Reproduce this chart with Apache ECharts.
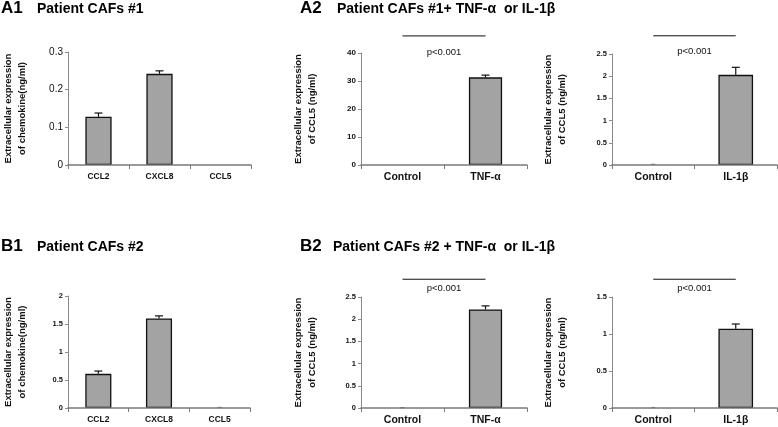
<!DOCTYPE html>
<html>
<head>
<meta charset="utf-8">
<script src="https://cdn.jsdelivr.net/npm/echarts@6/dist/echarts.min.js"></script>
<style>
html,body{margin:0;padding:0;background:#fff;}
#c{width:778px;height:427px;}
</style>
</head>
<body>
<div id="c"></div>
<script>
// ---- data ----
const catsChemokine = ['CCL2', 'CXCL8', 'CCL5'];
const catsTNF = ['Control', 'TNF-\u03b1'];
const catsIL = ['Control', 'IL-1\u03b2'];

const a1Values = [0.128, 0.242, 0];
const a1Errors = [0.010, 0.008, 0];
const a2TnfValues = [0, 31.3];
const a2TnfErrors = [0, 0.8];
const a2IlValues = [0.005, 2.03];
const a2IlErrors = [0.01, 0.17];
const b1Values = [0.61, 1.60, 0.003];
const b1Errors = [0.05, 0.045, 0.006];
const b2TnfValues = [0.003, 2.22];
const b2TnfErrors = [0.006, 0.08];
const b2IlValues = [0.002, 1.07];
const b2IlErrors = [0.004, 0.065];

// significance annotation levels: [line level, text level]
const a2TnfSig = [46.1, 40.4];
const a2IlSig = [2.91, 2.55];
const b2TnfSig = [2.90, 2.69];
const b2IlSig = [1.74, 1.62];
const sigText = 'p<0.001';

const yTitleChemokine = 'Extracellular expression\nof chemokine(ng/ml)';
const yTitleCCL5 = 'Extracellular expression\nof CCL5 (ng/ml)';

const FONT = '"Liberation Sans", Arial, Helvetica, sans-serif';

// ---- panels ----
const panels = [
  {grid:{left:62, top:52, width:189, height:113}, cats:catsChemokine, vals:a1Values, errs:a1Errors,
   max:0.3, interval:0.1, yTitle:yTitleChemokine, gap:39, tickFont:10, tickBold:'normal', catFont:8.5, barW:'43%', sig:null},
  {grid:{left:361, top:53, width:166, height:112}, cats:catsTNF, vals:a2TnfValues, errs:a2TnfErrors,
   max:40, interval:10, yTitle:yTitleCCL5, gap:42, tickFont:8, tickBold:'bold', catFont:10.5, barW:'40%', sig:a2TnfSig},
  {grid:{left:612, top:54, width:165, height:111}, cats:catsIL, vals:a2IlValues, errs:a2IlErrors,
   max:2.5, interval:0.5, yTitle:yTitleCCL5, gap:43, tickFont:7.5, tickBold:'bold', catFont:10.5, barW:'42%', sig:a2IlSig},
  {grid:{left:62, top:296, width:188, height:112}, cats:catsChemokine, vals:b1Values, errs:b1Errors,
   max:2, interval:0.5, yTitle:yTitleChemokine, gap:39, tickFont:7.5, tickBold:'bold', catFont:8.5, barW:'43%', sig:null},
  {grid:{left:361, top:297, width:166, height:111}, cats:catsTNF, vals:b2TnfValues, errs:b2TnfErrors,
   max:2.5, interval:0.5, yTitle:yTitleCCL5, gap:42, tickFont:7.5, tickBold:'bold', catFont:10.5, barW:'40%', sig:b2TnfSig},
  {grid:{left:612, top:297, width:165, height:111}, cats:catsIL, vals:b2IlValues, errs:b2IlErrors,
   max:1.5, interval:0.5, yTitle:yTitleCCL5, gap:43, tickFont:7.5, tickBold:'bold', catFont:10.5, barW:'42%', sig:b2IlSig}
];

const grids = [], xAxes = [], yAxes = [], series = [];
panels.forEach((p, i) => {
  const small = p.max * 0.01;
  grids.push(Object.assign({containLabel:false}, p.grid));
  xAxes.push({
    type:'category', gridIndex:i, data:p.cats, z:10,
    axisLine:{lineStyle:{color:'#7a7a7a', width:1.6}},
    axisTick:{show:true, length:4, lineStyle:{color:'#7a7a7a', width:1}},
    axisLabel:{fontFamily:FONT, fontWeight:'bold', fontSize:p.catFont, color:'#111', margin:7}
  });
  yAxes.push({
    type:'value', gridIndex:i, min:0, max:p.max, interval:p.interval,
    splitLine:{show:false},
    axisLine:{show:true, lineStyle:{color:'#8a8a8a', width:1}},
    axisTick:{show:true, length:3, lineStyle:{color:'#8a8a8a'}},
    axisLabel:{fontFamily:FONT, fontSize:p.tickFont, fontWeight:p.tickBold, color:'#111', margin:5},
    name:p.yTitle, nameLocation:'middle', nameGap:p.gap,
    nameTextStyle:{fontFamily:FONT, fontWeight:'bold', fontSize:9.5, lineHeight:14, color:'#111', align:'center'}
  });
  series.push({
    type:'bar', xAxisIndex:i, yAxisIndex:i, barWidth:p.barW,
    data:p.vals.map(v => ({value:v, itemStyle:{borderWidth: v > small ? 1.3 : 0, opacity: v > small ? 1 : 0}})),
    itemStyle:{color:'#a3a3a3', borderColor:'#111', borderWidth:1.3},
    emphasis:{disabled:true}, animation:false, z:2
  });
  series.push({
    type:'custom', xAxisIndex:i, yAxisIndex:i, clip:false, animation:false, z:4,
    data:p.vals.map((v, k) => [k, v, p.errs[k]]),
    renderItem:(params, api) => {
      const e = api.value(2);
      if (!e) return null;
      const b = api.coord([api.value(0), api.value(1)]);
      const t = api.coord([api.value(0), api.value(1) + e]);
      const tiny = api.value(1) <= small;
      const st = {stroke: tiny ? '#777' : '#111', lineWidth:1.2};
      const w = tiny ? 2 : 4;
      return {type:'group', children:[
        {type:'line', shape:{x1:b[0], y1:b[1], x2:t[0], y2:t[1]}, style:st},
        {type:'line', shape:{x1:t[0]-w, y1:t[1], x2:t[0]+w, y2:t[1]}, style:st}
      ]};
    }
  });
  if (p.sig) {
    series.push({
      type:'custom', xAxisIndex:i, yAxisIndex:i, clip:false, animation:false, z:4,
      data:[[0, 1, p.sig[0], p.sig[1]]],
      renderItem:(params, api) => {
        const a = api.coord([api.value(0), api.value(2)]);
        const b = api.coord([api.value(1), api.value(2)]);
        const tt = api.coord([api.value(0), api.value(3)]);
        return {type:'group', children:[
          {type:'line', shape:{x1:a[0], y1:a[1], x2:b[0], y2:b[1]}, style:{stroke:'#111', lineWidth:1}},
          {type:'text', x:(a[0]+b[0])/2, y:tt[1], style:{text:sigText, fontFamily:FONT, fontSize:9.5,
            fill:'#111', align:'center', verticalAlign:'middle'}}
        ]};
      }
    });
  }
});

const titleStyle = {fontFamily:FONT, fontWeight:'bold', fontSize:14, color:'#000'};
const letterStyle = {fontFamily:FONT, fontWeight:'bold', fontSize:17, color:'#000'};
const titles = [
  {text:'A1', left:1, top:0, textStyle:letterStyle},
  {text:'Patient CAFs #1', left:37, top:2, textStyle:titleStyle},
  {text:'A2', left:300, top:0, textStyle:letterStyle},
  {text:'Patient CAFs #1+ TNF-\u03b1  or IL-1\u03b2', left:337, top:2, textStyle:titleStyle},
  {text:'B1', left:1, top:238, textStyle:letterStyle},
  {text:'Patient CAFs #2', left:37, top:240, textStyle:titleStyle},
  {text:'B2', left:300, top:238, textStyle:letterStyle},
  {text:'Patient CAFs #2 + TNF-\u03b1  or IL-1\u03b2', left:333, top:240, textStyle:titleStyle}
].map(t => Object.assign({padding:0}, t));

const chart = echarts.init(document.getElementById('c'), null, {renderer:'canvas'});
chart.setOption({
  backgroundColor:'#fff',
  animation:false,
  title:titles,
  grid:grids, xAxis:xAxes, yAxis:yAxes, series:series
});
</script>
</body>
</html>
